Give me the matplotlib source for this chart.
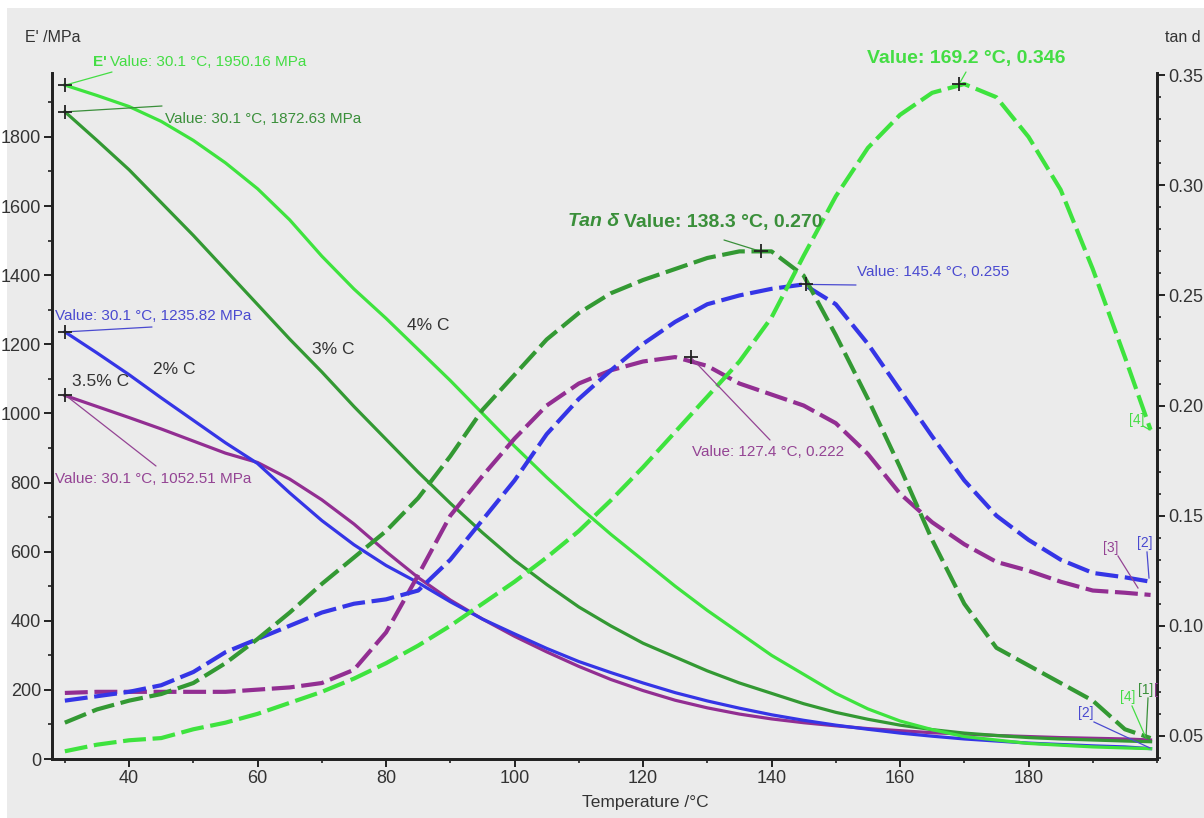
import matplotlib.pyplot as plt
from matplotlib import font_manager
from matplotlib.patches import Rectangle
from matplotlib.ticker import MultipleLocator

# temperatures (deg C)
temp = [30, 35, 40, 45, 50, 55, 60, 65, 70, 75, 80, 85, 90, 95, 100, 105, 110,
        115, 120, 125, 130, 135, 140, 145, 150, 155, 160, 165, 170, 175, 180,
        185, 190, 195, 199]

# storage modulus E' (MPa)
e_4c = [1950, 1920, 1888, 1845, 1790, 1725, 1650, 1560, 1455, 1360, 1275, 1185,
        1095, 1000, 905, 815, 730, 650, 575, 500, 430, 365, 300, 245, 190, 145,
        110, 85, 65, 55, 45, 40, 35, 32, 30]
e_3c = [1873, 1790, 1705, 1610, 1515, 1415, 1315, 1215, 1120, 1020, 925, 830,
        740, 655, 575, 505, 440, 385, 335, 295, 255, 220, 190, 160, 135, 115,
        98, 85, 75, 68, 62, 58, 55, 52, 50]
e_2c = [1236, 1175, 1112, 1045, 980, 915, 855, 770, 690, 620, 560, 510, 455,
        405, 362, 320, 282, 250, 220, 192, 168, 147, 128, 112, 98, 86, 75, 66,
        58, 52, 46, 42, 38, 35, 30]
e_35c = [1052, 1020, 988, 955, 920, 885, 858, 810, 750, 680, 600, 525, 460,
         405, 355, 310, 268, 230, 198, 170, 148, 130, 116, 105, 96, 88, 82, 76,
         72, 68, 65, 62, 60, 58, 55]

# loss factor tan d
tan_4c = [0.043, 0.046, 0.048, 0.049, 0.053, 0.056, 0.060, 0.065, 0.070, 0.076,
          0.083, 0.091, 0.100, 0.110, 0.120, 0.131, 0.143, 0.157, 0.172, 0.188,
          0.204, 0.220, 0.240, 0.268, 0.295, 0.317, 0.332, 0.342, 0.346, 0.340,
          0.322, 0.298, 0.262, 0.222, 0.189]
tan_3c = [0.056, 0.062, 0.066, 0.069, 0.074, 0.083, 0.094, 0.106, 0.119, 0.131,
          0.143, 0.158, 0.177, 0.198, 0.214, 0.230, 0.242, 0.251, 0.257, 0.262,
          0.267, 0.270, 0.270, 0.259, 0.232, 0.203, 0.172, 0.139, 0.110, 0.090,
          0.082, 0.074, 0.066, 0.053, 0.049]
tan_2c = [0.066, 0.068, 0.070, 0.073, 0.079, 0.088, 0.094, 0.100, 0.106, 0.110,
          0.112, 0.116, 0.130, 0.148, 0.166, 0.187, 0.203, 0.216, 0.228, 0.238,
          0.246, 0.250, 0.253, 0.255, 0.246, 0.228, 0.207, 0.186, 0.166, 0.150,
          0.139, 0.130, 0.124, 0.122, 0.120]
tan_35c = [0.0695, 0.070, 0.070, 0.070, 0.070, 0.070, 0.071, 0.072, 0.074, 0.080,
           0.097, 0.123, 0.150, 0.168, 0.185, 0.200, 0.210, 0.216, 0.220, 0.222,
           0.218, 0.210, 0.205, 0.200, 0.192, 0.178, 0.160, 0.147, 0.137, 0.129,
           0.125, 0.120, 0.116, 0.115, 0.114]

# marked points
e_start_t = 30.1
e_start = [1950.16, 1872.63, 1235.82, 1052.51]
peak_t = [169.2, 138.3, 145.4, 127.4]
peak_tan = [0.346, 0.270, 0.255, 0.222]

C4 = '#3ee33e'
C3 = '#339933'
C2 = '#3535e6'
C35 = '#922e92'
T4 = '#44dd44'
T3 = '#3a8f3a'
T2 = '#4a4ad0'
T35 = '#944494'

names = {f.name for f in font_manager.fontManager.ttflist}
fam = ['Liberation Sans Narrow', 'Liberation Sans', 'DejaVu Sans']
fam = [f for f in fam if f in names] or ['DejaVu Sans']
plt.rcParams['font.family'] = fam

W, H = 1204, 818
fig = plt.figure(figsize=(W / 100, H / 100), dpi=100)
fig.patch.set_facecolor('white')
fig.patches.append(Rectangle((7 / W, 0), 1, 1 - 8 / H, transform=fig.transFigure,
                             facecolor='#ebebeb', edgecolor='none', zorder=-10))

ax = fig.add_axes([52 / W, 59 / H, (1157 - 52) / W, (759 - 73) / H])
ax.set_facecolor('none')
ax2 = ax.twinx()
ax2.set_facecolor('none')

sw = 2.3
dash = dict(lw=3.0, dashes=(5.5, 1.6))
ax.plot(temp, e_35c, color=C35, lw=sw)
ax.plot(temp, e_2c, color=C2, lw=sw)
ax.plot(temp, e_3c, color=C3, lw=sw)
ax.plot(temp, e_4c, color=C4, lw=sw)
ax2.plot(temp, tan_35c, color=C35, **dash)
ax2.plot(temp, tan_2c, color=C2, **dash)
ax2.plot(temp, tan_3c, color=C3, **dash)
ax2.plot(temp, tan_4c, color=C4, **dash)

ax.plot([e_start_t] * 4, e_start, '+', color='#222222', ms=10, mew=1.3, zorder=5)
ax2.plot(peak_t, peak_tan, '+', color='#222222', ms=10, mew=1.3, zorder=5)

ax.set_xlim(28, 200)
ax.set_ylim(0, 1985)
ax2.set_ylim(0.0395, 0.351)

ax.xaxis.set_major_locator(MultipleLocator(20))
ax.xaxis.set_minor_locator(MultipleLocator(10))
ax.yaxis.set_major_locator(MultipleLocator(200))
ax.yaxis.set_minor_locator(MultipleLocator(100))
ax2.yaxis.set_major_locator(MultipleLocator(0.05))
ax2.yaxis.set_minor_locator(MultipleLocator(0.01))
ax2.yaxis.set_major_formatter(plt.FormatStrFormatter('%.2f'))

for a in (ax, ax2):
    a.spines['top'].set_visible(False)
    for s in ('left', 'right', 'bottom'):
        a.spines[s].set_linewidth(2.0)
        a.spines[s].set_color('#222222')
    a.tick_params(which='major', direction='out', length=6, width=1.4,
                  colors='#222222', labelcolor='#333333', labelsize=13, pad=2)
    a.tick_params(which='minor', direction='out', length=3, width=1.2,
                  colors='#222222')
ax.set_xticks(range(40, 181, 20))

def fy(y):
    return H - y

txt = dict(transform=None, fontsize=11)
fig.text(25, fy(37), "E' /MPa", color='#333333', va='center', transform=None,
         fontsize=11.5)
fig.text(1165, fy(37), 'tan d', color='#333333', va='center', transform=None,
         fontsize=11.5)
fig.text(645, fy(803), 'Temperature /°C', color='#333333', ha='center',
         va='center', transform=None, fontsize=12.5)

# E' start annotations
fig.text(93, fy(62), "E'", color=T4, fontweight='bold', va='center', **txt)
fig.text(110, fy(62), 'Value: 30.1 °C, 1950.16 MPa', color=T4, va='center', **txt)
fig.text(165, fy(119), 'Value: 30.1 °C, 1872.63 MPa', color=T3, va='center', **txt)
fig.text(55, fy(316), 'Value: 30.1 °C, 1235.82 MPa', color=T2, va='center', **txt)
fig.text(55, fy(479), 'Value: 30.1 °C, 1052.51 MPa', color=T35, va='center', **txt)

leaders = [
    (ax, (e_start_t, e_start[0]), (112, 72), T4),
    (ax, (e_start_t, e_start[1]), (162, 106), T3),
    (ax, (e_start_t, e_start[2]), (152, 327), T2),
    (ax, (e_start_t, e_start[3]), (156, 466), T35),
    (ax2, (peak_t[0], peak_tan[0]), (966, 72), T4),
    (ax2, (peak_t[1], peak_tan[1]), (724, 240), T3),
    (ax2, (peak_t[2], peak_tan[2]), (856, 285), T2),
    (ax2, (peak_t[3], peak_tan[3]), (770, 440), T35),
]
for a, xy, p, c in leaders:
    a.annotate('', xy=xy, xycoords='data', xytext=(p[0], fy(p[1])),
               textcoords='figure pixels',
               arrowprops=dict(arrowstyle='-', color=c, lw=0.9,
                               shrinkA=0, shrinkB=0))

# tan d peak annotations
big = dict(fontweight='bold', fontsize=14, va='center', transform=None)
fig.text(867, fy(58), 'Value: 169.2 °C, 0.346', color=T4, **big)
fig.text(568, fy(222), 'Tan δ', color=T3, fontstyle='italic', **big)
fig.text(624, fy(222), 'Value: 138.3 °C, 0.270', color=T3, **big)
fig.text(857, fy(272), 'Value: 145.4 °C, 0.255', color=T2, va='center', **txt)
fig.text(692, fy(452), 'Value: 127.4 °C, 0.222', color=T35, va='center', **txt)

# curve labels
lab = dict(color='#333333', fontsize=12.5, va='center', transform=None)
fig.text(407, fy(325), '4% C', **lab)
fig.text(312, fy(350), '3% C', **lab)
fig.text(153, fy(370), '2% C', **lab)
fig.text(72, fy(382), '3.5% C', **lab)

# end markers
small = dict(fontsize=10, va='center', ha='center', transform=None)
ends = [('[4]', (1137, 420), (1143, 426), (1150, 430), T4),
        ('[3]', (1111, 548), (1118, 556), (1138, 588), T35),
        ('[2]', (1145, 543), (1147, 552), (1149, 578), T2),
        ('[2]', (1086, 713), (1094, 722), (1150, 748), T2),
        ('[4]', (1128, 697), (1132, 706), (1146, 738), T4),
        ('[1]', (1146, 690), (1148, 698), (1146, 738), T3)]
for s, tp, p0, p1, c in ends:
    fig.text(tp[0], fy(tp[1]), s, color=c, **small)
    fig.add_artist(plt.Line2D([p0[0] / W, p1[0] / W], [1 - p0[1] / H, 1 - p1[1] / H],
                              transform=fig.transFigure, color=c, lw=0.9))
fig.text(1156, fy(690), '[', color=T35, **small)

fig.savefig('out.png', dpi=100)
